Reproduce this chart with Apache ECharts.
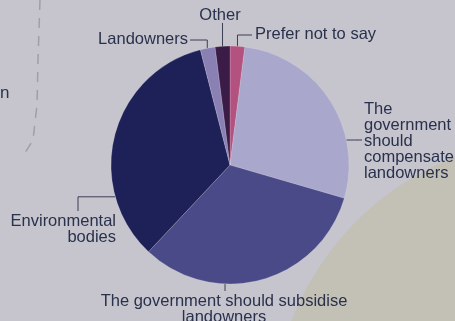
<!DOCTYPE html>
<html>
<head>
<meta charset="utf-8">
<script src="https://cdn.jsdelivr.net/npm/echarts@6/dist/echarts.min.js"></script>
<style>
  html, body { margin: 0; padding: 0; background: #c6c5cd; }
  #chart { width: 455px; height: 321px; }
</style>
</head>
<body>
<div id="chart"></div>
<script>
// categories and shares (%), clockwise from 12 o'clock
const categories = [
  "Prefer not to say",
  "The\ngovernment\nshould\ncompensate\nlandowners",
  "The government should subsidise\nlandowners",
  "Environmental\nbodies",
  "Landowners",
  "Other"
];
const shares = [2, 27.5, 32.5, 34, 2, 2];
const sliceColors = ["#b4527f", "#a9a7cb", "#4a4a88", "#1e2058", "#8a80b4", "#3a1c46"];

(function () {
  let myChart = echarts.init(document.getElementById("chart"));

  const cx = 230, cy = 165, R = 119;
  // point on the rim, angle measured clockwise from the top
  function edge(deg) {
    let a = deg * Math.PI / 180;
    return [cx + R * Math.sin(a), cy - R * Math.cos(a)];
  }

  // where every label sits and how its leader line runs
  function layoutFor(i) {
    let p;
    switch (i) {
      case 0: // prefer not to say
        p = edge(3.6);
        return { x: 255, y: 34, align: "left", verticalAlign: "middle",
          labelLinePoints: [p, [p[0], 35], [252, 35]] };
      case 1: // compensate
        p = edge(77.9);
        return { x: 364, y: 141, align: "left", verticalAlign: "middle",
          labelLinePoints: [p, [p[0] + 8, 140], [362, 140]] };
      case 2: // subsidise
        p = edge(182.4);
        return { x: 224, y: 293, align: "center", verticalAlign: "top",
          labelLinePoints: [p, [p[0], 288], [p[0], 291]] };
      case 3: // environmental bodies
        p = edge(254.5);
        return { x: 116, y: 229, align: "right", verticalAlign: "middle",
          labelLinePoints: [p, [78, p[1]], [78, 211]] };
      case 4: // landowners
        p = edge(349);
        return { x: 188, y: 39, align: "right", verticalAlign: "middle",
          labelLinePoints: [p, [p[0], 40], [190, 40]] };
      default: // other
        p = edge(356.4);
        return { x: 220, y: 15, align: "center", verticalAlign: "middle",
          labelLinePoints: [p, [p[0], 30], [p[0], 23]] };
    }
  }

  let option = {
    backgroundColor: "#c6c5cd",
    animation: false,
    graphic: [
      {
        // pale beige sheet in the lower right of the photo
        type: "circle",
        z: -10,
        shape: { cx: 560, cy: 425, r: 288 },
        style: { fill: "#c3c0b6" }
      },
      {
        // faint dashed stroke on the left of the photo
        type: "polyline",
        z: -5,
        shape: { points: [[40, 0], [38, 60], [37, 105], [33, 140], [22, 158]] },
        style: { stroke: "#a09fa8", lineWidth: 1.5, lineDash: [10, 8], fill: null }
      },
      {
        type: "text",
        left: 0,
        top: 85,
        style: { text: "n", fill: "#2c3550", font: "17px 'Liberation Sans'" }
      }
    ],
    series: [
      {
        type: "pie",
        center: [cx, cy],
        radius: [0, R],
        startAngle: 90,
        clockwise: true,
        data: categories.map(function (c, i) {
          return { name: c, value: shares[i], itemStyle: { color: sliceColors[i] } };
        }),
        itemStyle: {
          borderColor: "rgba(230,230,240,0.35)",
          borderWidth: 0.6
        },
        label: {
          show: true,
          formatter: "{b}",
          overflow: "none",
          color: "#29314d",
          fontFamily: "Liberation Sans",
          fontSize: 16.5,
          lineHeight: 16
        },
        labelLine: {
          show: true,
          lineStyle: { color: "#3a3f55", width: 1 }
        },
        labelLayout: function (params) {
          return layoutFor(params.dataIndex);
        },
        emphasis: { disabled: true }
      }
    ]
  };

  myChart.setOption(option);
  window.addEventListener("resize", function () {
    myChart.resize();
  });
})();
</script>
</body>
</html>
